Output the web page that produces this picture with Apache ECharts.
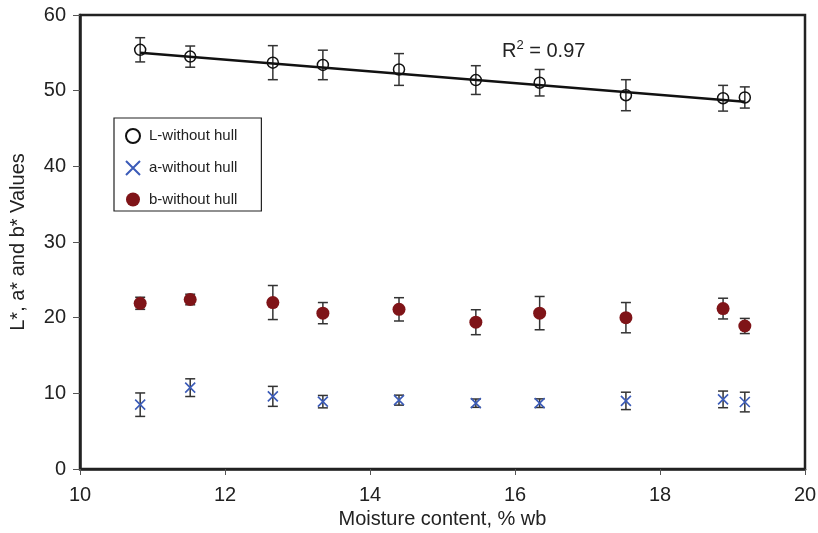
<!DOCTYPE html>
<html>
<head>
<meta charset="utf-8">
<script src="https://cdn.jsdelivr.net/npm/echarts@6/dist/echarts.min.js"></script>
<style>
html,body{margin:0;padding:0;background:#fff;}
#chart{width:818px;height:533px;}
</style>
</head>
<body>
<div id="chart"></div>
<script>
const moisture = [10.83, 11.52, 12.66, 13.35, 14.40, 15.46, 16.34, 17.53, 18.87, 19.17];
const lValues = [55.4, 54.5, 53.7, 53.4, 52.8, 51.4, 51.05, 49.4, 49.0, 49.1];
const lErr    = [1.6, 1.4, 2.25, 1.95, 2.1, 1.9, 1.75, 2.05, 1.7, 1.4];
const aValues = [8.5, 10.75, 9.6, 8.9, 9.1, 8.7, 8.7, 9.0, 9.2, 8.85];
const aErr    = [1.55, 1.17, 1.32, 0.82, 0.66, 0.55, 0.57, 1.15, 1.1, 1.3];
const bValues = [21.9, 22.4, 22.0, 20.6, 21.1, 19.4, 20.6, 20.0, 21.2, 18.9];
const bErr    = [0.8, 0.7, 2.25, 1.4, 1.54, 1.65, 2.2, 2.0, 1.37, 1.0];
const trendLine = [[10.83, 55.0], [19.17, 48.55]];
const seriesNames = ['L-without hull', 'a-without hull', 'b-without hull'];
const xTicks = {min: 10, max: 20, interval: 2};
const yTicks = {min: 0, max: 60, interval: 10};
const r2Text = '0.97';

const FONT = "'Liberation Sans', Arial, Helvetica, sans-serif";
const pts = (vals) => moisture.map((x, i) => [x, vals[i]]);
const errs = (vals, e) => moisture.map((x, i) => [x, vals[i] - e[i], vals[i] + e[i]]);

function errRender(params, api) {
  const x = api.value(0);
  const lo = api.coord([x, api.value(1)]);
  const hi = api.coord([x, api.value(2)]);
  const w = 5;
  const style = {stroke: '#333', lineWidth: 1.5, fill: null};
  return {
    type: 'group',
    children: [
      {type: 'line', shape: {x1: lo[0], y1: lo[1], x2: hi[0], y2: hi[1]}, style: style},
      {type: 'line', shape: {x1: lo[0] - w, y1: lo[1], x2: lo[0] + w, y2: lo[1]}, style: style},
      {type: 'line', shape: {x1: hi[0] - w, y1: hi[1], x2: hi[0] + w, y2: hi[1]}, style: style}
    ]
  };
}

const xPath = 'path://M0,0L10,10M10,0L0,10';

const chart = echarts.init(document.getElementById('chart'), null, {renderer: 'canvas'});
chart.setOption({
  backgroundColor: '#fff',
  animation: false,
  textStyle: {fontFamily: FONT},
  grid: {left: 80, top: 15, right: 13, bottom: 64, show: true, borderColor: '#222', borderWidth: 2.5, backgroundColor: 'transparent', containLabel: false, outerBoundsMode: 'none'},
  title: {
    left: 497, top: 34,
    text: '{a|R}{s|2}{a| = ' + r2Text + '}',
    textStyle: {
      fontWeight: 'normal',
      rich: {
        a: {fontSize: 20, fontFamily: FONT, fontWeight: 'normal', color: '#222', lineHeight: 24},
        s: {fontSize: 13, fontFamily: FONT, fontWeight: 'normal', color: '#222', verticalAlign: 'top', lineHeight: 24, padding: [0, 0, 8, 0]}
      }
    }
  },
  legend: {
    data: seriesNames,
    orient: 'vertical',
    left: 114, top: 118,
    padding: [10, 24, 4, 11],
    itemGap: 16,
    itemWidth: 14, itemHeight: 14,
    borderColor: '#222', borderWidth: 1.2,
    textStyle: {fontSize: 15, fontFamily: FONT, color: '#222', padding: [0, 0, 0, 4]}
  },
  xAxis: {
    type: 'value', min: xTicks.min, max: xTicks.max, interval: xTicks.interval,
    name: 'Moisture content, % wb', nameLocation: 'middle', nameGap: 36,
    nameTextStyle: {fontSize: 20, color: '#222', fontFamily: FONT},
    axisLine: {show: true, onZero: false, lineStyle: {color: '#222', width: 2.5}},
    axisTick: {show: true, length: 6, lineStyle: {color: '#555', width: 1}},
    axisLabel: {fontSize: 20, color: '#222', margin: 16, fontFamily: FONT},
    splitLine: {show: false}
  },
  yAxis: {
    type: 'value', min: yTicks.min, max: yTicks.max, interval: yTicks.interval,
    name: 'L*, a* and b* Values', nameLocation: 'middle', nameGap: 52,
    nameTextStyle: {fontSize: 20, color: '#222', fontFamily: FONT},
    axisLine: {show: true, onZero: false, lineStyle: {color: '#222', width: 2.5}},
    axisTick: {show: true, length: 7, lineStyle: {color: '#555', width: 1}},
    axisLabel: {fontSize: 20, color: '#222', margin: 14, fontFamily: FONT},
    splitLine: {show: false}
  },
  series: [
    {type: 'custom', name: 'errL', renderItem: errRender, data: errs(lValues, lErr), z: 1, silent: true, encode: {x: 0, y: [1, 2]}},
    {type: 'custom', name: 'errA', renderItem: errRender, data: errs(aValues, aErr), z: 1, silent: true, encode: {x: 0, y: [1, 2]}},
    {type: 'custom', name: 'errB', renderItem: errRender, data: errs(bValues, bErr), z: 1, silent: true, encode: {x: 0, y: [1, 2]}},
    {type: 'line', name: 'trend', data: trendLine, showSymbol: false, symbol: 'none', lineStyle: {color: '#111', width: 2.5}, z: 2, silent: true},
    {type: 'scatter', name: seriesNames[0], data: pts(lValues), symbol: 'circle', symbolSize: 11,
     itemStyle: {color: 'rgba(0,0,0,0)', borderColor: '#111', borderWidth: 1.5, opacity: 1}, z: 3},
    {type: 'scatter', name: seriesNames[1], data: pts(aValues), symbol: xPath, symbolSize: 10,
     itemStyle: {color: 'rgba(0,0,0,0)', borderColor: '#3b5bb8', borderWidth: 1.6, opacity: 1}, z: 3},
    {type: 'scatter', name: seriesNames[2], data: pts(bValues), symbol: 'circle', symbolSize: 13,
     itemStyle: {color: '#7f1418', opacity: 1}, z: 3}
  ]
});
</script>
</body>
</html>
